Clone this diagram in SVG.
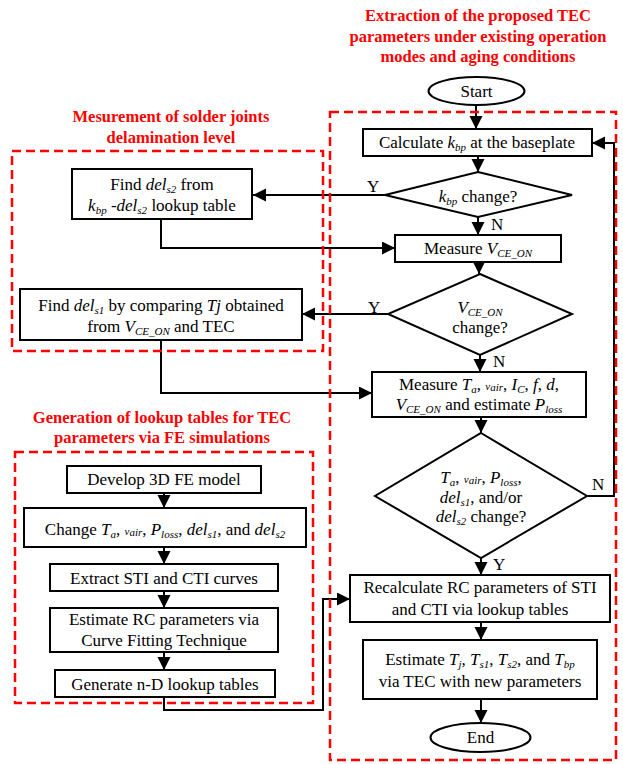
<svg xmlns="http://www.w3.org/2000/svg" width="623" height="764" viewBox="0 0 623 764" font-family="Liberation Serif, DejaVu Serif, serif">
<style>
.t{font-size:17px;fill:#000;text-anchor:middle}
.i{font-style:italic}
.s{font-style:italic;font-size:11px}
.ttl{font-weight:bold;font-size:16.5px;fill:#ff0000;text-anchor:middle}
.box{fill:#fff;stroke:#000;stroke-width:2}
.dash{fill:none;stroke:#ff0000;stroke-width:2.5;stroke-dasharray:9 5}
.c{fill:none;stroke:#000;stroke-width:2;marker-end:url(#ah)}
.lbl{font-size:17px;fill:#000}
</style>
<defs>
<marker id="ah" markerUnits="userSpaceOnUse" markerWidth="14" markerHeight="14" refX="13" refY="6.5" orient="auto">
<path d="M0,0 L13,6.5 L0,13 z" fill="#000"/>
</marker>
</defs>
<rect width="623" height="764" fill="#fff"/>

<g id="connectors">
<path class="c" d="M476,105 V129"/>
<path class="c" d="M478,156 V172"/>
<path class="c" d="M385,195 H253"/>
<path class="c" d="M478,217 V235"/>
<path class="c" d="M161,219 V248 H395"/>
<path class="c" d="M479,262 V274"/>
<path class="c" d="M388,314 H302"/>
<path class="c" d="M480,355 V372"/>
<path class="c" d="M161,340 V393 H372"/>
<path class="c" d="M481,417 V433"/>
<path class="c" d="M587,496 H614 V143 H592"/>
<path class="c" d="M481,558 V575"/>
<path class="c" d="M481,622 V640"/>
<path class="c" d="M481,699 V723"/>
<path class="c" d="M164,493 V508"/>
<path class="c" d="M164,547 V564"/>
<path class="c" d="M164,591 V608"/>
<path class="c" d="M164,652 V670"/>
<path class="c" d="M164,697 V710 H323 V599 H350"/>
<text class="lbl" x="367" y="192">Y</text>
<text class="lbl" x="491" y="230">N</text>
<text class="lbl" x="368" y="313">Y</text>
<text class="lbl" x="493" y="367">N</text>
<text class="lbl" x="592" y="490">N</text>
<text class="lbl" x="493" y="570">Y</text>
</g>

<g id="frames">
<rect class="dash" x="330" y="112" width="286" height="648"/>
<rect class="dash" x="12" y="151" width="311" height="200"/>
<rect class="dash" x="15" y="452" width="298" height="251"/>
<text class="ttl" x="478" y="21">Extraction of the proposed TEC</text>
<text class="ttl" x="478" y="42">parameters under existing operation</text>
<text class="ttl" x="478" y="62">modes and aging conditions</text>
<text class="ttl" x="171" y="122">Mesurement of solder joints</text>
<text class="ttl" x="171" y="143">delamination level</text>
<text class="ttl" x="162" y="423">Generation of lookup tables for TEC</text>
<text class="ttl" x="162" y="443">parameters via FE simulations</text>
</g>

<g id="start">
<ellipse class="box" cx="476.5" cy="91" rx="48" ry="14"/>
<text class="t" x="476.5" y="97">Start</text>
</g>
<g id="calc-kbp">
<rect class="box" x="363" y="129" width="229" height="27"/>
<text class="t" x="477" y="148">Calculate <tspan class="i">k</tspan><tspan class="s" dy="3">bp</tspan><tspan dy="-3"> at the baseplate</tspan></text>
</g>
<g id="kbp-change">
<polygon class="box" points="478,172 572,195 478,217 385,195"/>
<text class="t" x="478" y="202"><tspan class="i">k</tspan><tspan class="s" dy="3">bp</tspan><tspan dy="-3"> change?</tspan></text>
</g>
<g id="measure-vce">
<rect class="box" x="395" y="235" width="166" height="27"/>
<text class="t" x="478" y="254">Measure  <tspan class="i">V</tspan><tspan class="s" dy="3">CE_ON</tspan></text>
</g>
<g id="vce-change">
<polygon class="box" points="480,274 572,314 480,355 388,314"/>
<text class="t" x="480" y="313"><tspan class="i">V</tspan><tspan class="s" dy="3">CE_ON</tspan></text>
<text class="t" x="480" y="333">change?</text>
</g>
<g id="measure-ta">
<rect class="box" x="372" y="372" width="214" height="45"/>
<text class="t" x="479" y="390">Measure <tspan class="i">T</tspan><tspan class="s" dy="3">a</tspan><tspan dy="-3">, </tspan><tspan class="s">v</tspan><tspan class="s" dy="1">air</tspan><tspan dy="-1">, </tspan><tspan class="i">I</tspan><tspan class="s" dy="3">C</tspan><tspan dy="-3">, </tspan><tspan class="i">f</tspan>, <tspan class="i">d</tspan>,</text>
<text class="t" x="479" y="410"><tspan class="i">V</tspan><tspan class="s" dy="3">CE_ON</tspan><tspan dy="-3"> and estimate </tspan><tspan class="i">P</tspan><tspan class="s" dy="3">loss</tspan></text>
</g>
<g id="params-change">
<polygon class="box" points="481,433 587,496 481,558 375,496"/>
<text class="t" x="481" y="483"><tspan class="i">T</tspan><tspan class="s" dy="3">a</tspan><tspan dy="-3">, </tspan><tspan class="s">v</tspan><tspan class="s" dy="1">air</tspan><tspan dy="-1">, </tspan><tspan class="i">P</tspan><tspan class="s" dy="3">loss</tspan><tspan dy="-3">,</tspan></text>
<text class="t" x="481" y="503"><tspan class="i">del</tspan><tspan class="s" dy="3">s1</tspan><tspan dy="-3">, and/or</tspan></text>
<text class="t" x="481" y="522"><tspan class="i">del</tspan><tspan class="s" dy="3">s2</tspan><tspan dy="-3"> change?</tspan></text>
</g>
<g id="recalc-rc">
<rect class="box" x="350" y="575" width="260" height="47"/>
<text class="t" x="480" y="593">Recalculate RC parameters of STI</text>
<text class="t" x="480" y="615">and CTI via lookup tables</text>
</g>
<g id="estimate-t">
<rect class="box" x="363" y="640" width="234" height="59"/>
<text class="t" x="480" y="665">Estimate <tspan class="i">T</tspan><tspan class="s" dy="3">j</tspan><tspan dy="-3">, </tspan><tspan class="i">T</tspan><tspan class="s" dy="3">s1</tspan><tspan dy="-3">, </tspan><tspan class="i">T</tspan><tspan class="s" dy="3">s2</tspan><tspan dy="-3">, and </tspan><tspan class="i">T</tspan><tspan class="s" dy="3">bp</tspan></text>
<text class="t" x="480" y="687">via TEC with new parameters</text>
</g>
<g id="end">
<ellipse class="box" cx="480.5" cy="737.5" rx="50" ry="14.5"/>
<text class="t" x="480.5" y="743">End</text>
</g>

<g id="find-dels2">
<rect class="box" x="72" y="169" width="180" height="50"/>
<text class="t" x="162" y="190">Find <tspan class="i">del</tspan><tspan class="s" dy="3">s2</tspan><tspan dy="-3"> from</tspan></text>
<text class="t" x="162" y="211"><tspan class="i">k</tspan><tspan class="s" dy="3">bp</tspan><tspan dy="-3"> -</tspan><tspan class="i">del</tspan><tspan class="s" dy="3">s2</tspan><tspan dy="-3"> lookup table</tspan></text>
</g>
<g id="find-dels1">
<rect class="box" x="20" y="289" width="282" height="51"/>
<text class="t" x="161" y="311">Find <tspan class="i">del</tspan><tspan class="s" dy="3">s1</tspan><tspan dy="-3"> by comparing </tspan><tspan class="i">Tj</tspan> obtained</text>
<text class="t" x="161" y="332">from  <tspan class="i">V</tspan><tspan class="s" dy="3">CE_ON</tspan><tspan dy="-3"> and TEC</tspan></text>
</g>

<g id="develop-fe">
<rect class="box" x="67" y="466" width="194" height="27"/>
<text class="t" x="164" y="485">Develop 3D FE model</text>
</g>
<g id="change-params">
<rect class="box" x="24" y="508" width="282" height="39"/>
<text class="t" x="165" y="535">Change <tspan class="i">T</tspan><tspan class="s" dy="3">a</tspan><tspan dy="-3">, </tspan><tspan class="s">v</tspan><tspan class="s" dy="1">air</tspan><tspan dy="-1">, </tspan><tspan class="i">P</tspan><tspan class="s" dy="3">loss</tspan><tspan dy="-3">, </tspan><tspan class="i">del</tspan><tspan class="s" dy="3">s1</tspan><tspan dy="-3">, and </tspan><tspan class="i">del</tspan><tspan class="s" dy="3">s2</tspan></text>
</g>
<g id="extract-curves">
<rect class="box" x="50" y="564" width="228" height="27"/>
<text class="t" x="164" y="584">Extract STI and CTI curves</text>
</g>
<g id="estimate-rc">
<rect class="box" x="50" y="608" width="228" height="44"/>
<text class="t" x="164" y="625">Estimate RC parameters via</text>
<text class="t" x="164" y="646">Curve Fitting Technique</text>
</g>
<g id="generate-tables">
<rect class="box" x="55" y="670" width="220" height="27"/>
<text class="t" x="165" y="690">Generate n-D lookup tables</text>
</g>
</svg>
